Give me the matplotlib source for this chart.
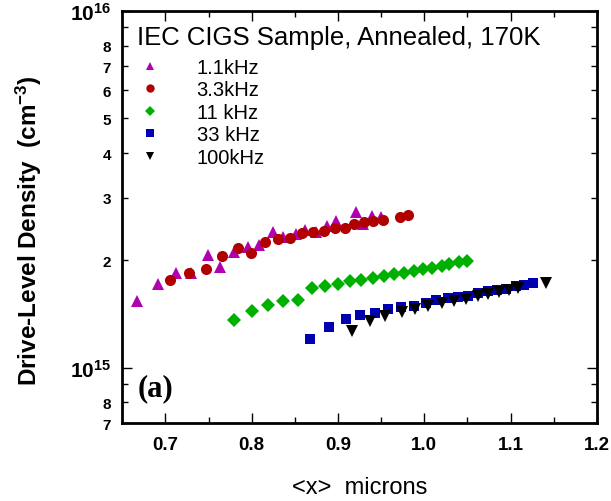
import matplotlib
matplotlib.use("Agg")
import matplotlib.pyplot as plt
from matplotlib.ticker import FixedLocator, FixedFormatter

plt.rcParams['font.family'] = ['Liberation Sans', 'DejaVu Sans']
plt.rcParams['mathtext.fontset'] = 'custom'
plt.rcParams['mathtext.rm'] = 'Liberation Sans:bold'
plt.rcParams['mathtext.default'] = 'rm'

# 1.1 kHz
x_1k = [0.667, 0.692, 0.712, 0.730, 0.749, 0.763, 0.780, 0.796, 0.809, 0.825,
        0.836, 0.851, 0.862, 0.875, 0.887, 0.898, 0.921, 0.929, 0.939, 0.950]
y_1k = [1.543e15, 1.719e15, 1.842e15, 1.846e15, 2.073e15, 1.922e15, 2.110e15, 2.179e15, 2.211e15, 2.399e15,
        2.332e15, 2.373e15, 2.440e15, 2.409e15, 2.504e15, 2.576e15, 2.741e15, 2.532e15, 2.660e15, 2.643e15]
# 3.3 kHz
x_3k = [0.705, 0.727, 0.747, 0.766, 0.784, 0.799, 0.815, 0.831, 0.844, 0.858,
        0.871, 0.884, 0.896, 0.908, 0.919, 0.930, 0.941, 0.952, 0.972, 0.981]
y_3k = [1.764e15, 1.842e15, 1.894e15, 2.064e15, 2.165e15, 2.096e15, 2.250e15, 2.298e15, 2.313e15, 2.384e15,
        2.399e15, 2.415e15, 2.462e15, 2.467e15, 2.532e15, 2.570e15, 2.587e15, 2.604e15, 2.643e15, 2.683e15]
# 11 kHz
x_11k = [0.779, 0.800, 0.819, 0.836, 0.854, 0.870, 0.885, 0.900, 0.914, 0.927, 0.940,
         0.953, 0.965, 0.977, 0.988, 0.999, 1.009, 1.020, 1.029, 1.040, 1.050]
y_11k = [1.366e15, 1.447e15, 1.502e15, 1.541e15, 1.554e15, 1.675e15, 1.700e15, 1.716e15, 1.747e15, 1.767e15, 1.789e15,
         1.814e15, 1.831e15, 1.849e15, 1.864e15, 1.894e15, 1.903e15, 1.935e15, 1.956e15, 1.978e15, 1.990e15]
# 33 kHz
x_33k = [0.868, 0.890, 0.909, 0.926, 0.943, 0.958, 0.973, 0.988, 1.002, 1.014,
         1.028, 1.039, 1.051, 1.062, 1.074, 1.084, 1.095, 1.106, 1.116, 1.126]
y_33k = [1.208e15, 1.302e15, 1.375e15, 1.411e15, 1.429e15, 1.464e15, 1.479e15, 1.495e15, 1.521e15, 1.550e15,
         1.571e15, 1.584e15, 1.594e15, 1.623e15, 1.640e15, 1.654e15, 1.665e15, 1.694e15, 1.708e15, 1.727e15]
# 100 kHz
x_100k = [0.916, 0.937, 0.955, 0.974, 0.989, 1.004, 1.021, 1.034, 1.048, 1.062,
          1.074, 1.086, 1.098, 1.109, 1.141]
y_100k = [1.272e15, 1.351e15, 1.402e15, 1.438e15, 1.464e15, 1.495e15, 1.518e15, 1.543e15, 1.561e15, 1.594e15,
          1.612e15, 1.636e15, 1.654e15, 1.672e15, 1.727e15]

series = [
    (x_1k, y_1k, '^', '#b000b0', 8.5, '1.1kHz'),
    (x_3k, y_3k, 'o', '#b00000', 8.0, '3.3kHz'),
    (x_11k, y_11k, 'D', '#00b000', 7.3, '11 kHz'),
    (x_33k, y_33k, 's', '#0000b0', 7.5, '33 kHz'),
    (x_100k, y_100k, 'v', '#000000', 8.5, '100kHz'),
]

fig = plt.figure(figsize=(6.11, 5.02), dpi=100)
ax = fig.add_axes((0.2, 0.155, 0.777, 0.821))

for xs, ys, mk, col, ms, lab in series:
    ax.plot(xs, ys, linestyle='none', marker=mk, color=col, markersize=ms,
            markeredgewidth=0, label=lab)

ax.set_yscale('log')
ax.set_xlim(0.65, 1.2)
ax.set_ylim(7e14, 1e16)

# x ticks
ax.set_xticks([0.7, 0.8, 0.9, 1.0, 1.1, 1.2])
ax.set_xticklabels(['0.7', '0.8', '0.9', '1.0', '1.1', '1.2'])
ax.xaxis.set_minor_locator(FixedLocator([0.75, 0.85, 0.95, 1.05, 1.15]))

# y ticks
ax.yaxis.set_major_locator(FixedLocator([1e15, 1e16]))
ax.yaxis.set_major_formatter(FixedFormatter(['$10^{15}$', '$10^{16}$']))
minor_vals = [7e14, 8e14, 9e14] + [k * 1e15 for k in range(2, 10)]
minor_labs = ['7', '8', '', '2', '3', '4', '5', '6', '7', '8', '']
ax.yaxis.set_minor_locator(FixedLocator(minor_vals))
ax.yaxis.set_minor_formatter(FixedFormatter(minor_labs))

ax.tick_params(which='both', direction='in', top=True, right=True, width=1)
ax.tick_params(which='major', length=7)
ax.tick_params(which='minor', length=4)
ax.tick_params(axis='x', which='major', labelsize=13.5, pad=9)
ax.tick_params(axis='y', which='major', labelsize=15, pad=8)
ax.tick_params(axis='y', which='minor', labelsize=11, pad=8)
for lab in ax.get_xticklabels() + ax.get_yticklabels(which='minor'):
    lab.set_fontweight('bold')

for sp in ax.spines.values():
    sp.set_linewidth(2)

ax.set_xlabel('<x>  microns', fontsize=17, labelpad=17)
ax.set_ylabel('Drive-Level Density  (cm$^{-3}$)', fontsize=17.5, fontweight='bold')
ax.yaxis.set_label_coords(-0.165, 0.47)

ax.text(0.032, 0.92, 'IEC CIGS Sample, Annealed, 170K', transform=ax.transAxes,
        fontsize=18.5, ha='left', va='baseline')
ax.text(0.032, 0.085, '(a)', transform=ax.transAxes, fontsize=22, fontweight='bold',
        family='Liberation Serif', ha='left', va='center')

ax.legend(loc='upper left', bbox_to_anchor=(0.038, 0.886), frameon=False, fontsize=14.5,
          handlelength=1.0, handletextpad=1.8, labelspacing=0.17, borderpad=0,
          borderaxespad=0, markerscale=0.75)

fig.savefig('out.png', dpi=100)
